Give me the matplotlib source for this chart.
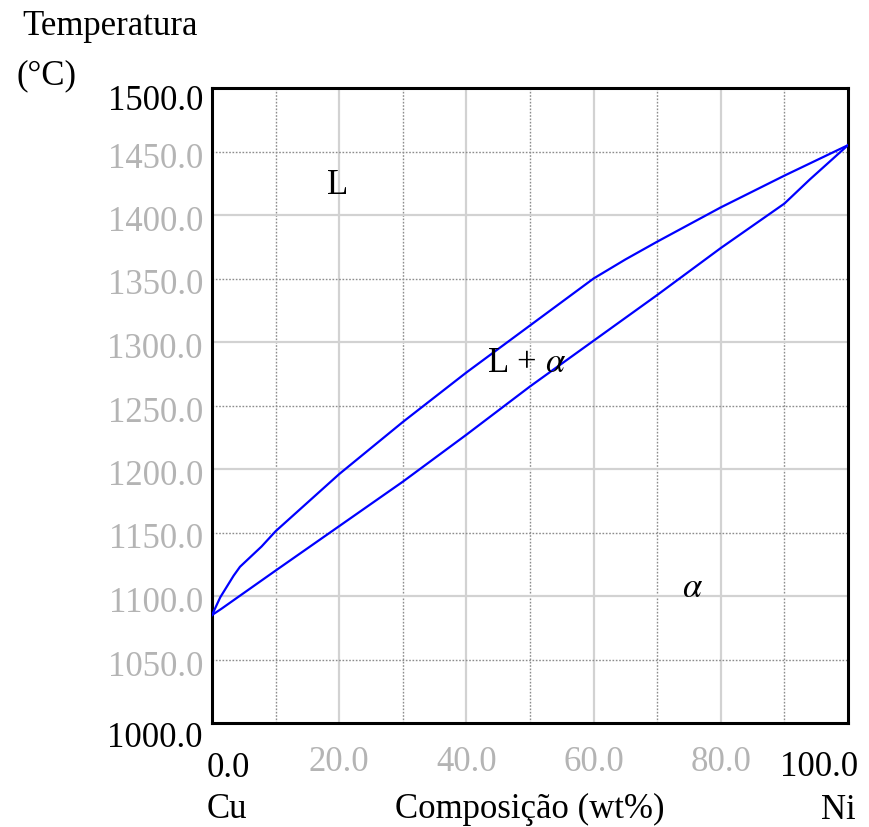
import matplotlib
matplotlib.use("Agg")
import matplotlib.pyplot as plt
from matplotlib.transforms import offset_copy

plt.rcParams['font.family'] = ['Liberation Serif', 'DejaVu Serif']
plt.rcParams['mathtext.fontset'] = 'stix'

# liquidus / solidus
liq_x = [0, 1.3, 3.4, 4.4, 7.8, 10, 20, 30, 40, 50, 60, 65, 70, 80, 90, 100]
liq_t = [1085, 1099, 1116, 1123, 1139, 1151, 1196, 1237, 1276, 1313, 1350, 1365, 1379, 1406, 1431, 1455]
sol_x = [0, 1.5, 4.9, 10, 20, 30, 40, 50, 60, 70, 80, 90, 94, 100]
sol_t = [1085, 1090, 1102, 1120, 1155, 1190, 1227, 1265, 1301, 1337, 1374, 1409, 1428, 1455]

x_ticks = [0, 20, 40, 60, 80, 100]
y_ticks = [1000, 1050, 1100, 1150, 1200, 1250, 1300, 1350, 1400, 1450, 1500]
regions = [("L", 19.7, 1423), (r"L + $\alpha$", 49.5, 1283), (r"$\alpha$", 75.5, 1106)]

W, H = 870, 827
fig = plt.figure(figsize=(W / 100, H / 100), dpi=100)
ax = fig.add_axes([212 / W, 1 - 723 / H, 636 / W, 635 / H])
ax.set_xlim(0, 100)
ax.set_ylim(1000, 1500)

# grid: solid at the major steps, dotted in between
for gx in range(10, 100, 10):
    if gx % 20 == 0:
        ax.axvline(gx, color='#d2d2d2', lw=1.6, zorder=1)
    else:
        ax.axvline(gx, color='#8c8c8c', lw=1.0, ls=(0, (1.2, 1.2)), zorder=1)
for gy in range(1050, 1500, 50):
    if gy % 100 == 0:
        ax.axhline(gy, color='#d2d2d2', lw=1.6, zorder=1)
    else:
        ax.axhline(gy, color='#8c8c8c', lw=1.0, ls=(0, (1.2, 1.2)), zorder=1)

ax.plot(liq_x, liq_t, color='#0000ff', lw=1.6, zorder=3)
ax.plot(sol_x, sol_t, color='#0000ff', lw=1.6, zorder=3)

for s in ax.spines.values():
    s.set_linewidth(2.2)
ax.set_xticks([])
ax.set_yticks([])

fs = 25
# y tick labels
ytr = ax.get_yaxis_transform()
for t in y_ticks:
    if t == 1500:
        dy, col = -22, 'black'
    elif t == 1000:
        dy, col = -24, 'black'
    else:
        dy, col = -16, '#b4b4b4'
    tr = offset_copy(ytr, fig=fig, x=-9, y=dy, units='dots')
    ax.text(0, t, f"{t:.1f}", transform=tr, ha='right', va='baseline',
            fontsize=fs, color=col)

# x tick labels
xtr = ax.get_xaxis_transform()
for v in x_ticks:
    if v == 0:
        tr = offset_copy(xtr, fig=fig, x=-5, y=-54, units='dots')
        ax.text(v, 0, f"{v:.1f}", transform=tr, ha='left', va='baseline', fontsize=fs)
    elif v == 100:
        tr = offset_copy(xtr, fig=fig, x=10, y=-53, units='dots')
        ax.text(v, 0, f"{v:.1f}", transform=tr, ha='right', va='baseline', fontsize=fs)
    else:
        tr = offset_copy(xtr, fig=fig, x=0, y=-48, units='dots')
        ax.text(v, 0, f"{v:.1f}", transform=tr, ha='center', va='baseline',
                fontsize=fs, color='#b4b4b4')

for lab, lx, ly in regions:
    ax.text(lx, ly, lab, ha='center', va='center', fontsize=fs, zorder=4)

fig.text(22 / W, 1 - 35 / H, "Temperatura", ha='left', va='baseline', fontsize=fs)
fig.text(17 / W, 1 - 84 / H, "(°C)", ha='left', va='baseline', fontsize=fs)
fig.text(207 / W, 1 - 818 / H, "Cu", ha='left', va='baseline', fontsize=fs)
fig.text(530 / W, 1 - 818 / H, "Composição (wt%)", ha='center', va='baseline', fontsize=fs)
fig.text(856 / W, 1 - 819 / H, "Ni", ha='right', va='baseline', fontsize=fs)

fig.savefig("out.png", dpi=100)
